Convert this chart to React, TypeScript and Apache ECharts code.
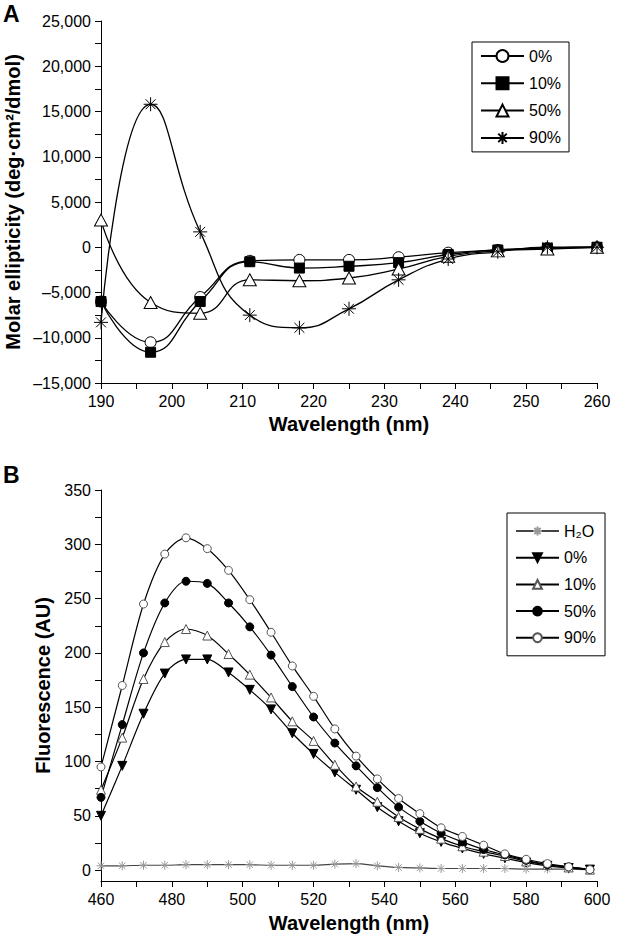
import React, { useEffect, useRef } from 'react';
import * as echarts from 'echarts';

// ---------- Panel A: CD spectra ----------
const cdWavelength = [190, 197, 204, 211, 218, 225, 232, 239, 246, 253, 260];
const cd0 = [-6000, -10500, -5500, -1500, -1400, -1400, -1100, -600, -300, -100, 0];
const cd10 = [-6000, -11600, -6000, -1600, -2300, -2100, -1700, -800, -300, -100, 0];
const cd50 = [3000, -6100, -7300, -3600, -3700, -3400, -2400, -1000, -400, -200, 0];
const cd90 = [-8300, 15800, 1700, -7500, -8900, -6800, -3600, -1300, -500, 0, 0];
const cdXTicks = [190, 195, 200, 205, 210, 215, 220, 225, 230, 235, 240, 245, 250, 255, 260];
const cdYTicks = [-15000, -12500, -10000, -7500, -5000, -2500, 0, 2500, 5000, 7500, 10000, 12500, 15000, 17500, 20000, 22500, 25000];
const cdNames = ['0%', '10%', '50%', '90%'];

// ---------- Panel B: fluorescence ----------
const flWavelength = [460, 466, 472, 478, 484, 490, 496, 502, 508, 514, 520, 526, 532, 538, 544, 550, 556, 562, 568, 574, 580, 586, 592, 598];
const flH2O = [4, 4, 4.5, 4.5, 5, 5, 5, 5, 4.5, 4.5, 4.5, 5.5, 6, 4, 2.5, 2, 1.5, 1.5, 1.5, 1.5, 1, 1, 1, 0.5];
const fl0 = [50, 96, 144, 181, 194, 194, 182, 166, 148, 126, 107, 90, 74, 58, 45, 34, 26, 20, 15, 11, 7, 4, 2, 0.5];
const fl10 = [74, 122, 176, 210, 222, 216, 199, 180, 159, 137, 119, 97, 77, 63, 49, 38, 29, 22, 17, 13, 8, 5, 2.5, 0.5];
const fl50 = [67, 134, 200, 246, 266, 264, 246, 224, 198, 169, 141, 117, 96, 76, 58, 45, 34, 26, 19, 14, 9, 5, 3, 0.5];
const fl90 = [95, 170, 245, 291, 306, 296, 276, 249, 219, 188, 160, 130, 105, 84, 66, 52, 39, 31, 23, 15, 10, 6, 3, 0.5];
const flXTicks = [460, 470, 480, 490, 500, 510, 520, 530, 540, 550, 560, 570, 580, 590, 600];
const flYLabels = [0, 50, 100, 150, 200, 250, 300, 350];
const flYTicks = [0, 25, 50, 75, 100, 125, 150, 175, 200, 225, 250, 275, 300, 325, 350];
const flNames = ['H₂O', '0%', '10%', '50%', '90%'];

const FONT = "'Liberation Sans', Arial, Helvetica, sans-serif";
const STAR = 'path://M0,-10L0,10M-10,0L10,0M-7.07,-7.07L7.07,7.07M-7.07,7.07L7.07,-7.07';

const pairs = (xs: number[], ys: number[]) => xs.map((x, i) => [x, ys[i]]);
const fmtK = (v: number) => {
  const s = String(Math.abs(v)).replace(/\B(?=(\d{3})+(?!\d))/g, ',');
  return v < 0 ? '–' + s : s;
};

const axisCommon = {
  axisLine: { show: true, onZero: false, lineStyle: { color: '#000', width: 1 } },
  splitLine: { show: false },
};

function lineSeries(name: string, xs: number[], ys: number[], opts: any) {
  return {
    type: 'line',
    name,
    data: pairs(xs, ys),
    smooth: opts.smooth,
    symbol: opts.symbol,
    symbolSize: opts.size,
    symbolRotate: opts.rotate || 0,
    showAllSymbol: true,
    lineStyle: { color: opts.line || '#000', width: opts.width || 1.3 },
    itemStyle: { color: opts.fill, borderColor: opts.stroke || '#000', borderWidth: 1 },
    emphasis: { disabled: true },
    silent: true,
  };
}

const optA: any = {
  animation: false,
  textStyle: { fontFamily: FONT },
  grid: { left: 101, top: 21, width: 496, height: 362 },
  xAxis: {
    type: 'value', min: 190, max: 260, interval: 10,
    ...axisCommon,
    axisTick: { show: true, length: 6, lineStyle: { color: '#000' }, customValues: cdXTicks },
    axisLabel: { color: '#000', fontSize: 16, margin: 10, fontFamily: FONT },
  },
  yAxis: {
    type: 'value', min: -15000, max: 25000, interval: 5000,
    ...axisCommon,
    axisTick: { show: true, length: 6, lineStyle: { color: '#000' }, customValues: cdYTicks },
    axisLabel: { color: '#000', fontSize: 16, margin: 10, fontFamily: FONT, formatter: fmtK },
  },
  legend: {
    orient: 'vertical', left: 472, top: 42, padding: [6, 8, 6, 8], itemGap: 11.3,
    itemWidth: 43, itemHeight: 15, borderColor: '#000', borderWidth: 1, selectedMode: false,
    textStyle: { fontSize: 16, color: '#000', lineHeight: 16, fontFamily: FONT },
    data: cdNames,
  },
  graphic: [
    { type: 'text', x: 13, y: 202, rotation: Math.PI / 2, style: { text: 'Molar ellipticity (deg·cm²/dmol)', fontSize: 20, fontWeight: 'bold', fontFamily: FONT, fill: '#000', align: 'center', verticalAlign: 'middle' } },
    { type: 'text', x: 349, y: 424, style: { text: 'Wavelength (nm)', fontSize: 20, fontWeight: 'bold', fontFamily: FONT, fill: '#000', align: 'center', verticalAlign: 'middle' } },
    { type: 'text', x: 3, y: 14, style: { text: 'A', fontSize: 23, fontWeight: 'bold', fontFamily: FONT, fill: '#000', align: 'left', verticalAlign: 'middle' } },
  ],
  series: [
    lineSeries(cdNames[0], cdWavelength, cd0, { smooth: true, symbol: 'circle', size: 11, fill: '#fff' }),
    lineSeries(cdNames[1], cdWavelength, cd10, { smooth: true, symbol: 'rect', size: 10, fill: '#000' }),
    lineSeries(cdNames[2], cdWavelength, cd50, { smooth: true, symbol: 'triangle', size: [13, 12], fill: '#fff' }),
    lineSeries(cdNames[3], cdWavelength, cd90, { smooth: true, symbol: STAR, size: 14, fill: 'rgba(0,0,0,0)' }),
  ],
};

const optB: any = {
  animation: false,
  textStyle: { fontFamily: FONT },
  grid: { left: 101, top: 50, width: 496, height: 391 },
  xAxis: {
    type: 'value', min: 460, max: 600, interval: 20,
    ...axisCommon,
    axisTick: { show: true, length: 6, lineStyle: { color: '#000' }, customValues: flXTicks },
    axisLabel: { color: '#000', fontSize: 16, margin: 10, fontFamily: FONT },
  },
  yAxis: {
    type: 'value', min: -10, max: 350,
    ...axisCommon,
    axisTick: { show: true, length: 6, lineStyle: { color: '#000' }, customValues: flYTicks },
    axisLabel: { color: '#000', fontSize: 16, margin: 10, fontFamily: FONT, customValues: flYLabels },
  },
  legend: {
    orient: 'vertical', left: 507, top: 73, padding: [10, 9, 10, 8], itemGap: 10.7,
    itemWidth: 43, itemHeight: 11, borderColor: '#000', borderWidth: 1, selectedMode: false,
    textStyle: { fontSize: 16, color: '#000', lineHeight: 16, fontFamily: FONT },
    data: flNames,
  },
  graphic: [
    { type: 'text', x: 43, y: 245.5, rotation: Math.PI / 2, style: { text: 'Fluorescence (AU)', fontSize: 20, fontWeight: 'bold', fontFamily: FONT, fill: '#000', align: 'center', verticalAlign: 'middle' } },
    { type: 'text', x: 349, y: 483, style: { text: 'Wavelength (nm)', fontSize: 20, fontWeight: 'bold', fontFamily: FONT, fill: '#000', align: 'center', verticalAlign: 'middle' } },
    { type: 'text', x: 3, y: 35, style: { text: 'B', fontSize: 23, fontWeight: 'bold', fontFamily: FONT, fill: '#000', align: 'left', verticalAlign: 'middle' } },
  ],
  series: [
    lineSeries(flNames[0], flWavelength, flH2O, { smooth: 0.3, symbol: STAR, size: 9, fill: 'rgba(0,0,0,0)', stroke: '#999', line: '#444', width: 1.2 }),
    lineSeries(flNames[1], flWavelength, fl0, { smooth: 0.3, symbol: 'triangle', rotate: 180, size: 9, fill: '#000', width: 1.2 }),
    lineSeries(flNames[2], flWavelength, fl10, { smooth: 0.3, symbol: 'triangle', size: 9, fill: '#fff', stroke: '#555', width: 1.2 }),
    lineSeries(flNames[3], flWavelength, fl50, { smooth: 0.3, symbol: 'circle', size: 8, fill: '#000', width: 1.2 }),
    lineSeries(flNames[4], flWavelength, fl90, { smooth: 0.3, symbol: 'circle', size: 8, fill: '#fff', stroke: '#555', width: 1.2 }),
  ],
};

export default function App() {
  const refA = useRef<HTMLDivElement>(null);
  const refB = useRef<HTMLDivElement>(null);
  useEffect(() => {
    const a = echarts.init(refA.current!, null, { renderer: 'svg' });
    const b = echarts.init(refB.current!, null, { renderer: 'svg' });
    a.setOption(optA);
    b.setOption(optB);
    return () => {
      a.dispose();
      b.dispose();
    };
  }, []);
  return (
    <div style={{ position: 'absolute', left: 0, top: 0, width: 644, height: 939, background: '#fff' }}>
      <div ref={refA} style={{ position: 'absolute', left: 0, top: 0, width: 644, height: 440 }} />
      <div ref={refB} style={{ position: 'absolute', left: 0, top: 440, width: 644, height: 499 }} />
    </div>
  );
}
